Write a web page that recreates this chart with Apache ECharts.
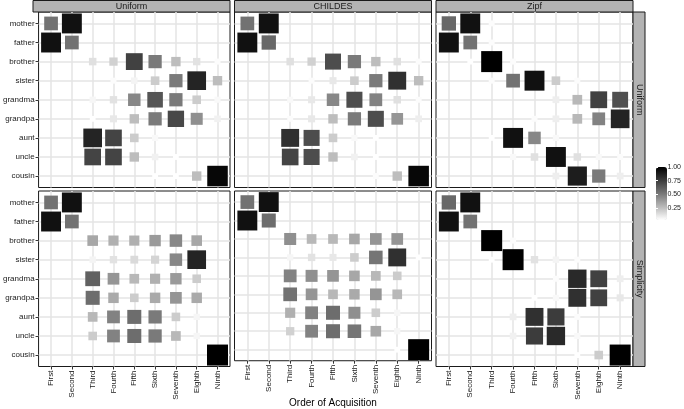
<!DOCTYPE html>
<html>
<head>
<meta charset="utf-8">
<script src="https://cdn.jsdelivr.net/npm/echarts@6/dist/echarts.min.js"></script>
<style>
html,body{margin:0;padding:0;background:#fff;}
#container{width:684px;height:409px;}
</style>
</head>
<body>
<div id="container"></div>
<script>
// rows = words, columns = order of acquisition, null = no point
var words = ['mother','father','brother','sister','grandma','grandpa','aunt','uncle','cousin'];
var orders = ['First','Second','Third','Fourth','Fifth','Sixth','Seventh','Eighth','Ninth'];
var colNames = ['Uniform','CHILDES','Zipf'];
var rowNames = ['Uniform','Simplicity'];
var _ = null;

var uniformUniform = [
    [.53,.93,_,_,_,_,_,_,_],
    [.93,.53,_,_,_,_,_,_,_],
    [_,_,.13,.18,.73,.5,.25,.12,.03],
    [_,_,_,.03,.06,.2,.5,.85,.25],
    [_,_,.05,.12,.45,.65,.5,.2,.04],
    [_,_,.02,.1,.25,.5,.7,.42,.07],
    [_,_,.85,.72,.2,.04,_,_,_],
    [_,_,.72,.72,.25,.07,.02,_,_],
    [_,_,_,_,_,.02,.02,.25,.97]
];
var uniformChildes = [
    [.53,.93,_,_,_,_,_,_,_],
    [.93,.57,_,_,_,_,_,_,_],
    [_,_,.13,.18,.68,.5,.25,.13,.03],
    [_,_,_,.03,.1,.2,.5,.8,.25],
    [_,_,.04,.1,.45,.68,.47,.13,.03],
    [_,_,.03,.1,.25,.5,.68,.4,.08],
    [_,_,.8,.68,.2,.04,.02,_,_],
    [_,_,.72,.68,.25,.07,.02,_,_],
    [_,_,_,_,_,_,.03,.25,.97]
];
var uniformZipf = [
    [.57,.93,.03,_,_,_,_,_,_],
    [.93,.53,.03,_,_,_,_,_,_],
    [_,.02,1,.03,_,_,_,_,_],
    [_,_,.03,.53,.93,.2,.03,_,_],
    [_,_,_,_,_,.08,.27,.73,.67],
    [_,_,_,_,.03,.08,.27,.47,.85],
    [_,_,.02,.93,.45,.04,_,_,_],
    [_,_,_,.04,.13,.93,.13,.04,.03],
    [_,_,_,_,_,.08,.88,.5,.08]
];
var simplicityUniform = [
    [.53,.93,_,_,_,_,_,_,_],
    [.93,.53,_,_,_,_,_,_,_],
    [_,_,.33,.3,.3,.38,.45,.33,_],
    [_,_,.06,.12,.15,.17,.45,.85,_],
    [_,_,.6,.4,.27,.3,.38,.2,_],
    [_,_,.55,.32,.2,.32,.4,.32,_],
    [_,_,.27,.47,.55,.5,.2,.05,_],
    [_,_,.2,.47,.55,.5,.27,.05,_],
    [_,_,_,_,_,_,_,_,1]
];
var simplicityChildes = [
    [.53,.93,_,_,_,_,_,_,_],
    [.93,.55,_,_,_,_,_,_,_],
    [_,_,.42,.27,.27,.33,.4,.4,_],
    [_,_,.05,.12,.1,.2,.52,.8,.02],
    [_,_,.47,.42,.4,.33,.27,.2,_],
    [_,_,.53,.4,.27,.32,.4,.27,_],
    [_,_,.3,.47,.55,.42,.2,.05,_],
    [_,_,.18,.47,.55,.52,.33,.05,_],
    [_,_,_,_,_,_,_,.02,1]
];
var simplicityZipf = [
    [.57,.93,_,_,_,_,_,_,_],
    [.93,.53,_,_,_,_,_,_,_],
    [_,_,1,.03,_,_,_,_,_],
    [_,_,.02,1,.12,.06,.03,_,_],
    [_,_,_,_,_,.03,.83,.73,.08],
    [_,_,_,_,.02,.04,.8,.73,.1],
    [_,_,_,.08,.8,.75,.03,_,_],
    [_,_,_,.07,.75,.83,.04,_,_],
    [_,_,_,_,_,_,.02,.2,1]
];
var panels = [
    [uniformUniform, uniformChildes, uniformZipf],
    [simplicityUniform, simplicityChildes, simplicityZipf]
];

var panelLeft = [33, 234.5, 436];
var panelTop = [12, 191];
var panelW = 197, panelH = 175.5;
var ticks = [1,2,3,4,5,6,7,8,9];
var font = 'Liberation Sans';

var dom = document.getElementById("container");
var myChart = echarts.init(dom);
var grid = [], xAxis = [], yAxis = [], series = [], graphic = [];

for (var r = 0; r < 2; r++) {
    for (var c = 0; c < 3; c++) {
        var k = grid.length;
        grid.push({
            left: panelLeft[c], top: panelTop[r], width: panelW, height: panelH,
            show: true, backgroundColor: '#fff', borderColor: '#1a1a1a', borderWidth: 1
        });
        xAxis.push({
            gridIndex: k, type: 'value', min: 0.4, max: 9.6,
            axisLine: {show: false},
            axisTick: {show: r == 1, length: 3, customValues: ticks, lineStyle: {color: '#333'}},
            axisLabel: {
                show: r == 1, customValues: ticks, rotate: 90, margin: 4,
                fontSize: 8, fontFamily: font, color: '#1a1a1a',
                formatter: function (v) { return orders[v - 1]; }
            },
            splitLine: {show: true, lineStyle: {color: '#e4e4e4', width: 1.5}},
            name: (r == 1 && c == 1) ? 'Order of Acquisition' : '',
            nameLocation: 'middle', nameGap: 33,
            nameTextStyle: {fontSize: 10, fontFamily: font, color: '#000'}
        });
        yAxis.push({
            gridIndex: k, type: 'value', min: 0.4, max: 9.6, inverse: true,
            axisLine: {show: false},
            axisTick: {show: c == 0, length: 3, customValues: ticks, lineStyle: {color: '#333'}},
            axisLabel: {
                show: c == 0, customValues: ticks, margin: 4,
                fontSize: 8, fontFamily: font, color: '#1a1a1a',
                formatter: function (v) { return words[v - 1]; }
            },
            splitLine: {show: true, lineStyle: {color: '#e4e4e4', width: 1.5}}
        });
        var m = panels[r][c], pts = [];
        for (var i = 0; i < words.length; i++) {
            for (var j = 0; j < orders.length; j++) {
                if (m[i][j] != null) pts.push([j + 1, i + 1, m[i][j]]);
            }
        }
        series.push({
            type: 'scatter', xAxisIndex: k, yAxisIndex: k,
            symbol: 'rect',
            symbolSize: function (d) { var s = 5.5 + 15.5 * d[2]; return [s, s]; },
            itemStyle: {opacity: 1},
            data: pts
        });
    }
}

// strips
for (var c = 0; c < 3; c++) {
    graphic.push({type: 'rect', shape: {x: panelLeft[c], y: 0.5, width: panelW, height: 11.5},
        style: {fill: '#b3b3b3', stroke: '#1a1a1a', lineWidth: 1}});
    graphic.push({type: 'text', x: panelLeft[c] + panelW / 2, y: 6.5,
        style: {text: colNames[c], fill: '#1a1a1a', font: '9px ' + font, align: 'center', verticalAlign: 'middle'}});
}
for (var r = 0; r < 2; r++) {
    graphic.push({type: 'rect', shape: {x: 633, y: panelTop[r], width: 12, height: panelH},
        style: {fill: '#b3b3b3', stroke: '#1a1a1a', lineWidth: 1}});
    graphic.push({type: 'text', x: 639.5, y: panelTop[r] + panelH / 2, rotation: -Math.PI / 2,
        style: {text: rowNames[r], fill: '#1a1a1a', font: '9px ' + font, align: 'center', verticalAlign: 'middle'}});
}

// colour bar labels and white ticks
grid.push({left: 656, top: 167, width: 11, height: 54.4});
xAxis.push({gridIndex: 6, type: 'value', show: false});
yAxis.push({
    gridIndex: 6, type: 'value', min: 0, max: 1, interval: 0.25, position: 'right', z: 10,
    axisLine: {show: false}, splitLine: {show: false},
    axisTick: {show: true, inside: true, length: 2, lineStyle: {color: '#fff'}},
    axisLabel: {margin: 4, fontSize: 7, fontFamily: font, color: '#1a1a1a',
        formatter: function (v) { return v == 0 ? '' : v.toFixed(2); }}
});
yAxis.push({
    gridIndex: 6, type: 'value', min: 0, max: 1, interval: 0.25, position: 'left', z: 10,
    axisLine: {show: false}, splitLine: {show: false}, axisLabel: {show: false},
    axisTick: {show: true, inside: true, length: 2, lineStyle: {color: '#fff'}}
});

option = {
    animation: false,
    backgroundColor: '#fff',
    grid: grid,
    xAxis: xAxis,
    yAxis: yAxis,
    visualMap: {
        type: 'continuous', seriesIndex: [0,1,2,3,4,5], dimension: 2,
        min: 0.02, max: 1, calculable: false, show: true, padding: 0,
        left: 656, top: 167, itemWidth: 11, itemHeight: 53, text: null,
        inRange: {color: ['#ffffff', '#b9b9b9', '#777777', '#3b3b3b', '#000000']}
    },
    graphic: graphic,
    series: series
};
if (option && typeof option === "object") {
    myChart.setOption(option);
}
</script>
</body>
</html>
